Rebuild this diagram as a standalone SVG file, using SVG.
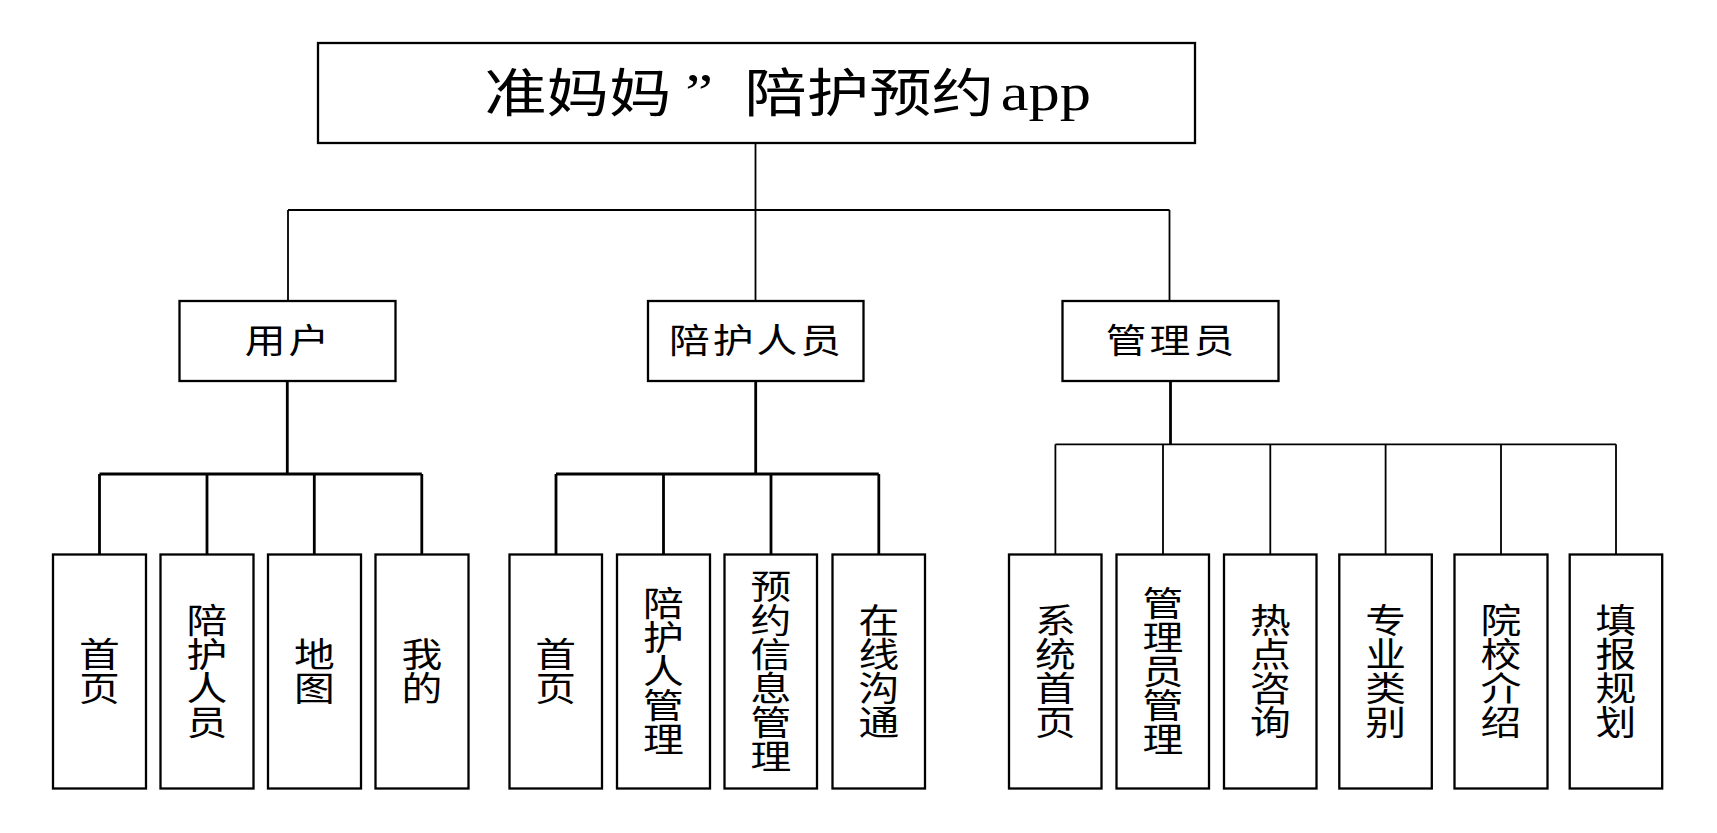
<svg xmlns="http://www.w3.org/2000/svg" width="1717" height="833" viewBox="0 0 1717 833">
<style>
  .box { fill: #ffffff; stroke: #000000; stroke-width: 2.3; }
  .thin { fill: none; stroke: #000000; stroke-width: 1.8; }
  .thick { fill: none; stroke: #000000; stroke-width: 2.8; }
  .t { font-family: "Noto Sans CJK SC", "Noto Sans CJK TC", sans-serif; fill: #000000; }
  .leaf { font-size: 34px; text-anchor: middle; writing-mode: vertical-rl; text-orientation: upright; }
  .mid { font-size: 34px; text-anchor: middle; letter-spacing: 2.5px; }
  .lat { font-family: "Liberation Serif", serif; }
</style>
<rect x="0" y="0" width="1717" height="833" fill="#ffffff"/>

<g id="connectors">
  <!-- root to level 2 -->
  <path class="thin" d="M755.5 143 V210 M288 210 H1169.5 M288 210 V301 M755.5 210 V301 M1169.5 210 V301"/>
  <!-- user -->
  <path class="thick" d="M287.3 381 V474 M99.5 474 H421.8 M99.5 474 V554.5 M207 474 V554.5 M314.3 474 V554.5 M421.8 474 V554.5"/>
  <!-- staff -->
  <path class="thick" d="M755.7 381 V474 M556 474 H878.8 M556 474 V554.5 M663.5 474 V554.5 M771 474 V554.5 M878.8 474 V554.5"/>
  <!-- admin -->
  <path class="thick" d="M1170.5 381 V444.3"/>
  <path class="thin" d="M1055.4 444.3 H1616 M1055.4 444.3 V554.5 M1163 444.3 V554.5 M1270.3 444.3 V554.5 M1385.6 444.3 V554.5 M1501 444.3 V554.5 M1616 444.3 V554.5"/>
</g>

<g id="root">
  <rect class="box" x="318" y="43" width="877" height="100"/>
  <text class="t" font-size="52" transform="scale(1.2,1)" y="112"><tspan x="403.5">准妈妈</tspan><tspan class="lat" x="571" y="110">”</tspan><tspan x="620.3" y="112">陪护预约</tspan><tspan class="lat" x="834" y="110">app</tspan></text>
</g>

<g id="n-user">
  <rect class="box" x="179.5" y="301" width="216" height="80"/>
  <text class="t mid" transform="translate(288.5,353.4) scale(1.2,1)" x="0" y="0">用户</text>
</g>
<g id="n-staff">
  <rect class="box" x="648" y="301" width="215.5" height="80"/>
  <text class="t mid" transform="translate(756.5,353.4) scale(1.2,1)" x="0" y="0">陪护人员</text>
</g>
<g id="n-admin">
  <rect class="box" x="1062.5" y="301" width="216" height="80"/>
  <text class="t mid" transform="translate(1171.5,353.4) scale(1.2,1)" x="0" y="0">管理员</text>
</g>

<!-- user leaves -->
<g id="u1">
  <rect class="box" x="53" y="554.5" width="93" height="234"/>
  <text class="t leaf" transform="translate(99.5,671.5) scale(1.2,1)" x="0" y="0">首页</text>
</g>
<g id="u2">
  <rect class="box" x="160.5" y="554.5" width="93" height="234"/>
  <text class="t leaf" transform="translate(207,671.5) scale(1.2,1)" x="0" y="0">陪护人员</text>
</g>
<g id="u3">
  <rect class="box" x="268" y="554.5" width="93" height="234"/>
  <text class="t leaf" transform="translate(314.5,671.5) scale(1.2,1)" x="0" y="0">地图</text>
</g>
<g id="u4">
  <rect class="box" x="375.5" y="554.5" width="93" height="234"/>
  <text class="t leaf" transform="translate(422,671.5) scale(1.2,1)" x="0" y="0">我的</text>
</g>

<!-- staff leaves -->
<g id="s1">
  <rect class="box" x="509.5" y="554.5" width="92.5" height="234"/>
  <text class="t leaf" transform="translate(555.7,671.5) scale(1.2,1)" x="0" y="0">首页</text>
</g>
<g id="s2">
  <rect class="box" x="617" y="554.5" width="93" height="234"/>
  <text class="t leaf" transform="translate(663.5,671.5) scale(1.2,1)" x="0" y="0">陪护人管理</text>
</g>
<g id="s3">
  <rect class="box" x="724.5" y="554.5" width="92.5" height="234"/>
  <text class="t leaf" transform="translate(770.8,671.5) scale(1.2,1)" x="0" y="0">预约信息管理</text>
</g>
<g id="s4">
  <rect class="box" x="832.5" y="554.5" width="92.5" height="234"/>
  <text class="t leaf" transform="translate(878.8,671.5) scale(1.2,1)" x="0" y="0">在线沟通</text>
</g>

<!-- admin leaves -->
<g id="a1">
  <rect class="box" x="1009" y="554.5" width="92.5" height="234"/>
  <text class="t leaf" transform="translate(1055.3,671.5) scale(1.2,1)" x="0" y="0">系统首页</text>
</g>
<g id="a2">
  <rect class="box" x="1116.5" y="554.5" width="92.5" height="234"/>
  <text class="t leaf" transform="translate(1162.8,671.5) scale(1.2,1)" x="0" y="0">管理员管理</text>
</g>
<g id="a3">
  <rect class="box" x="1224" y="554.5" width="92.5" height="234"/>
  <text class="t leaf" transform="translate(1270.3,671.5) scale(1.2,1)" x="0" y="0">热点咨询</text>
</g>
<g id="a4">
  <rect class="box" x="1339.3" y="554.5" width="92.5" height="234"/>
  <text class="t leaf" transform="translate(1385.6,671.5) scale(1.2,1)" x="0" y="0">专业类别</text>
</g>
<g id="a5">
  <rect class="box" x="1454.5" y="554.5" width="93" height="234"/>
  <text class="t leaf" transform="translate(1501,671.5) scale(1.2,1)" x="0" y="0">院校介绍</text>
</g>
<g id="a6">
  <rect class="box" x="1569.7" y="554.5" width="92.5" height="234"/>
  <text class="t leaf" transform="translate(1616,671.5) scale(1.2,1)" x="0" y="0">填报规划</text>
</g>
</svg>
